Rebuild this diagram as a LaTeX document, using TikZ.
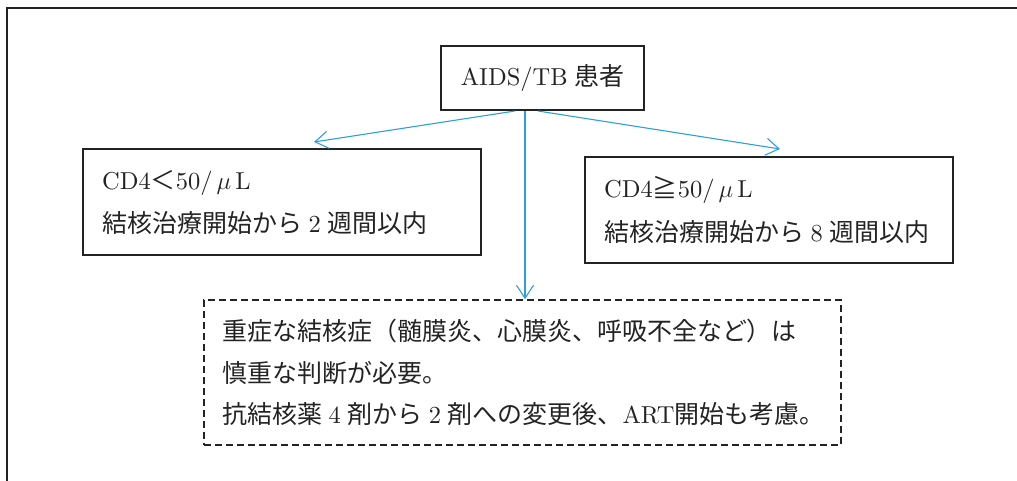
\documentclass[tikz,border=0pt]{standalone}
\usepackage{fontspec}
\setmainfont{lmroman10-regular}[Extension=.otf]
\newfontfamily\cjk[Scale=1.02]{Noto Sans CJK JP}
\usetikzlibrary{arrows.meta,calc}
\definecolor{arr}{RGB}{45,160,220}
\definecolor{ink}{RGB}{35,35,35}
\newcommand{\gp}{\hspace{6.5pt}}
\begin{document}
\begin{tikzpicture}[x=1pt,y=-1pt,
  box/.style={draw=ink, line width=2pt, inner sep=0pt},
  dbox/.style={draw=ink, line width=1.5pt, dash pattern=on 7pt off 4pt, inner sep=0pt},
  txt/.style={anchor=base west, inner sep=0pt, text=ink, font=\fontsize{24.5}{24.5}\selectfont},
  conn/.style={draw=arr, line width=1.1pt, -{Straight Barb[length=13pt,width=17pt]}}
]
\path[use as bounding box, clip] (0,0) rectangle (1017,481);
\draw[ink, line width=2pt] (7,500) -- (7,8) -- (1030,8);

\node[box, minimum width=203pt, minimum height=64pt, text=ink, font=\fontsize{24.5}{24.5}\selectfont] (top) at (542.5,78) {AIDS/TB\gp{\cjk 患者}};
\node[box, minimum width=398pt, minimum height=106pt] (left) at (282,202) {};
\node[box, minimum width=368pt, minimum height=106pt] (right) at (769,210) {};
\node[dbox, minimum width=637pt, minimum height=145pt] (note) at (522.5,372.5) {};

\node[txt] (l1) at (102,190) {CD4{\cjk ＜}50/\,$\mu$\,L};
\node[txt] (l2) at (102,233) {{\cjk 結核治療開始から}\gp2\gp{\cjk 週間以内}};
\node[txt] (r1) at (604,198) {CD4{\cjk ≧}50/\,$\mu$\,L};
\node[txt] (r2) at (604,241) {{\cjk 結核治療開始から}\gp8\gp{\cjk 週間以内}};
\node[txt] (n1) at (222,340) {{\cjk 重症な結核症（髄膜炎、心膜炎、呼吸不全など）は}};
\node[txt] (n2) at (222,382) {{\cjk 慎重な判断が必要。}};
\node[txt] (n3) at (222,423) {{\cjk 抗結核薬}\gp4\gp{\cjk 剤から}\gp2\gp{\cjk 剤への変更後、}ART{\cjk 開始も考慮。}};

\coordinate (lt) at (314,142);
\coordinate (rt) at (780,149);
\draw[conn] ([xshift=-27.5pt]top.south) -- (lt);
\draw[conn] ([xshift=-17.5pt]top.south) -- ([xshift=2.5pt]note.north);
\draw[conn] ([xshift=-4.5pt]top.south) -- (rt);
\end{tikzpicture}
\end{document}
